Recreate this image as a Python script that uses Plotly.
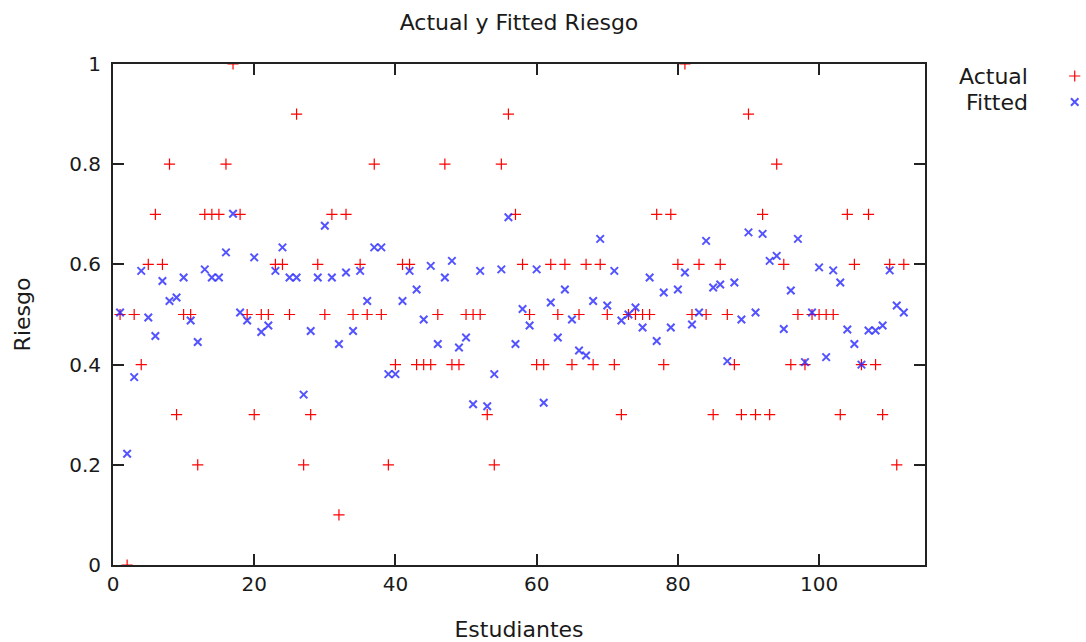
import plotly.graph_objects as go

# Student index on the x axis
estudiantes = list(range(1, 113))

# Observed risk per student
actual = [
    0.5, 0.0, 0.5, 0.4, 0.6, 0.7, 0.6, 0.8, 0.3, 0.5,
    0.5, 0.2, 0.7, 0.7, 0.7, 0.8, 1.0, 0.7, 0.5, 0.3,
    0.5, 0.5, 0.6, 0.6, 0.5, 0.9, 0.2, 0.3, 0.6, 0.5,
    0.7, 0.1, 0.7, 0.5, 0.6, 0.5, 0.8, 0.5, 0.2, 0.4,
    0.6, 0.6, 0.4, 0.4, 0.4, 0.5, 0.8, 0.4, 0.4, 0.5,
    0.5, 0.5, 0.3, 0.2, 0.8, 0.9, 0.7, 0.6, 0.5, 0.4,
    0.4, 0.6, 0.5, 0.6, 0.4, 0.5, 0.6, 0.4, 0.6, 0.5,
    0.4, 0.3, 0.5, 0.5, 0.5, 0.5, 0.7, 0.4, 0.7, 0.6,
    1.0, 0.5, 0.6, 0.5, 0.3, 0.6, 0.5, 0.4, 0.3, 0.9,
    0.3, 0.7, 0.3, 0.8, 0.6, 0.4, 0.5, 0.4, 0.5, 0.5,
    0.5, 0.5, 0.3, 0.7, 0.6, 0.4, 0.7, 0.4, 0.3, 0.6,
    0.2, 0.6,
]

# Model-fitted risk per student
fitted = [
    0.504, 0.222, 0.375, 0.587, 0.494, 0.457, 0.567, 0.527, 0.534, 0.574,
    0.488, 0.445, 0.590, 0.574, 0.574, 0.624, 0.701, 0.504, 0.488, 0.614,
    0.465, 0.478, 0.587, 0.634, 0.574, 0.574, 0.340, 0.467, 0.574, 0.677,
    0.574, 0.441, 0.584, 0.467, 0.587, 0.527, 0.634, 0.634, 0.381, 0.381,
    0.527, 0.587, 0.550, 0.490, 0.597, 0.441, 0.574, 0.607, 0.434, 0.454,
    0.321, 0.587, 0.317, 0.381, 0.590, 0.694, 0.441, 0.511, 0.478, 0.590,
    0.324, 0.524, 0.454, 0.550, 0.490, 0.428, 0.418, 0.527, 0.651, 0.518,
    0.587, 0.488, 0.500, 0.514, 0.474, 0.574, 0.447, 0.544, 0.474, 0.550,
    0.584, 0.480, 0.504, 0.647, 0.554, 0.560, 0.407, 0.564, 0.490, 0.664,
    0.504, 0.661, 0.607, 0.617, 0.471, 0.548, 0.651, 0.405, 0.504, 0.594,
    0.415, 0.588, 0.564, 0.470, 0.441, 0.400, 0.468, 0.468, 0.478, 0.588,
    0.518, 0.504,
]

series_names = ["Actual", "Fitted"]

FONT = "DejaVu Sans"
TXT = "#1a1a1a"
RED = "#ff0000"
BLUE = "rgba(40,40,255,0.8)"
AXIS = "#222222"

W, H = 1086, 642
ML, MR, MT, MB = 113, 5, 64, 77
PLOT_W = 812
paper_w = W - ML - MR
x_dom_end = PLOT_W / paper_w

# legend layout (key column sits in the right margin)
LEG_TEXT_X = (1030 - ML) / paper_w
LEG_KEY_DOMAIN = [0.95, 1.0]
LEG_KEY_X = 0.87
LEG_ROWS_Y = [0.976, 0.924]

marker_plus = dict(symbol="cross-thin", size=8, color=RED,
                   line=dict(color=RED, width=1.2))
marker_x = dict(symbol="x-thin", size=7.5, color=BLUE,
                line=dict(color=BLUE, width=2))

fig = go.Figure()
fig.add_trace(go.Scatter(x=estudiantes, y=actual, mode="markers",
                         name=series_names[0], marker=marker_plus,
                         showlegend=False))
fig.add_trace(go.Scatter(x=estudiantes, y=fitted, mode="markers",
                         name=series_names[1], marker=marker_x,
                         showlegend=False))

# legend keys
fig.add_trace(go.Scatter(x=[LEG_KEY_X], y=[LEG_ROWS_Y[0]], mode="markers",
                         marker=marker_plus, xaxis="x2", yaxis="y2",
                         showlegend=False, hoverinfo="skip"))
fig.add_trace(go.Scatter(x=[LEG_KEY_X], y=[LEG_ROWS_Y[1]], mode="markers",
                         marker=marker_x, xaxis="x2", yaxis="y2",
                         showlegend=False, hoverinfo="skip"))

annotations = []
for name, yy in zip(series_names, LEG_ROWS_Y):
    annotations.append(dict(text=name, x=LEG_TEXT_X, y=yy, xref="paper",
                            yref="paper", xanchor="right", yanchor="middle",
                            showarrow=False,
                            font=dict(family=FONT, size=22, color=TXT)))

fig.update_layout(
    width=W, height=H,
    margin=dict(l=ML, r=MR, t=MT, b=MB, autoexpand=False),
    paper_bgcolor="white", plot_bgcolor="white",
    font=dict(family=FONT, size=20, color=TXT),
    title=dict(text="Actual y Fitted Riesgo", x=(519 - ML) / paper_w,
               xref="paper", xanchor="center", y=1 - 22 / H,
               yanchor="middle", font=dict(family=FONT, size=22, color=TXT)),
    xaxis=dict(domain=[0, x_dom_end], range=[0, 115], dtick=20, tick0=0,
               showgrid=False, zeroline=False, showline=True,
               linecolor=AXIS, linewidth=2, mirror="ticks", automargin=False,
               ticks="inside", ticklen=11, tickwidth=1.5, tickcolor=AXIS,
               tickfont=dict(family=FONT, size=20, color=TXT),
               title=dict(text="Estudiantes", standoff=29,
                          font=dict(family=FONT, size=22, color=TXT))),
    yaxis=dict(range=[0, 1], dtick=0.2, tick0=0,
               showgrid=False, zeroline=False, showline=True,
               linecolor=AXIS, linewidth=2, mirror="ticks", automargin=False,
               ticks="inside", ticklen=11, tickwidth=1.5, tickcolor=AXIS,
               tickfont=dict(family=FONT, size=20, color=TXT),
               ticklabelstandoff=6,
               title=dict(text="Riesgo", standoff=32,
                          font=dict(family=FONT, size=22, color=TXT))),
    xaxis2=dict(domain=LEG_KEY_DOMAIN, range=[0, 1], visible=False,
                anchor="y2", fixedrange=True),
    yaxis2=dict(domain=[0, 1], range=[0, 1], visible=False,
                anchor="x2", fixedrange=True),
    annotations=annotations,
)

fig.write_html("out.html")
